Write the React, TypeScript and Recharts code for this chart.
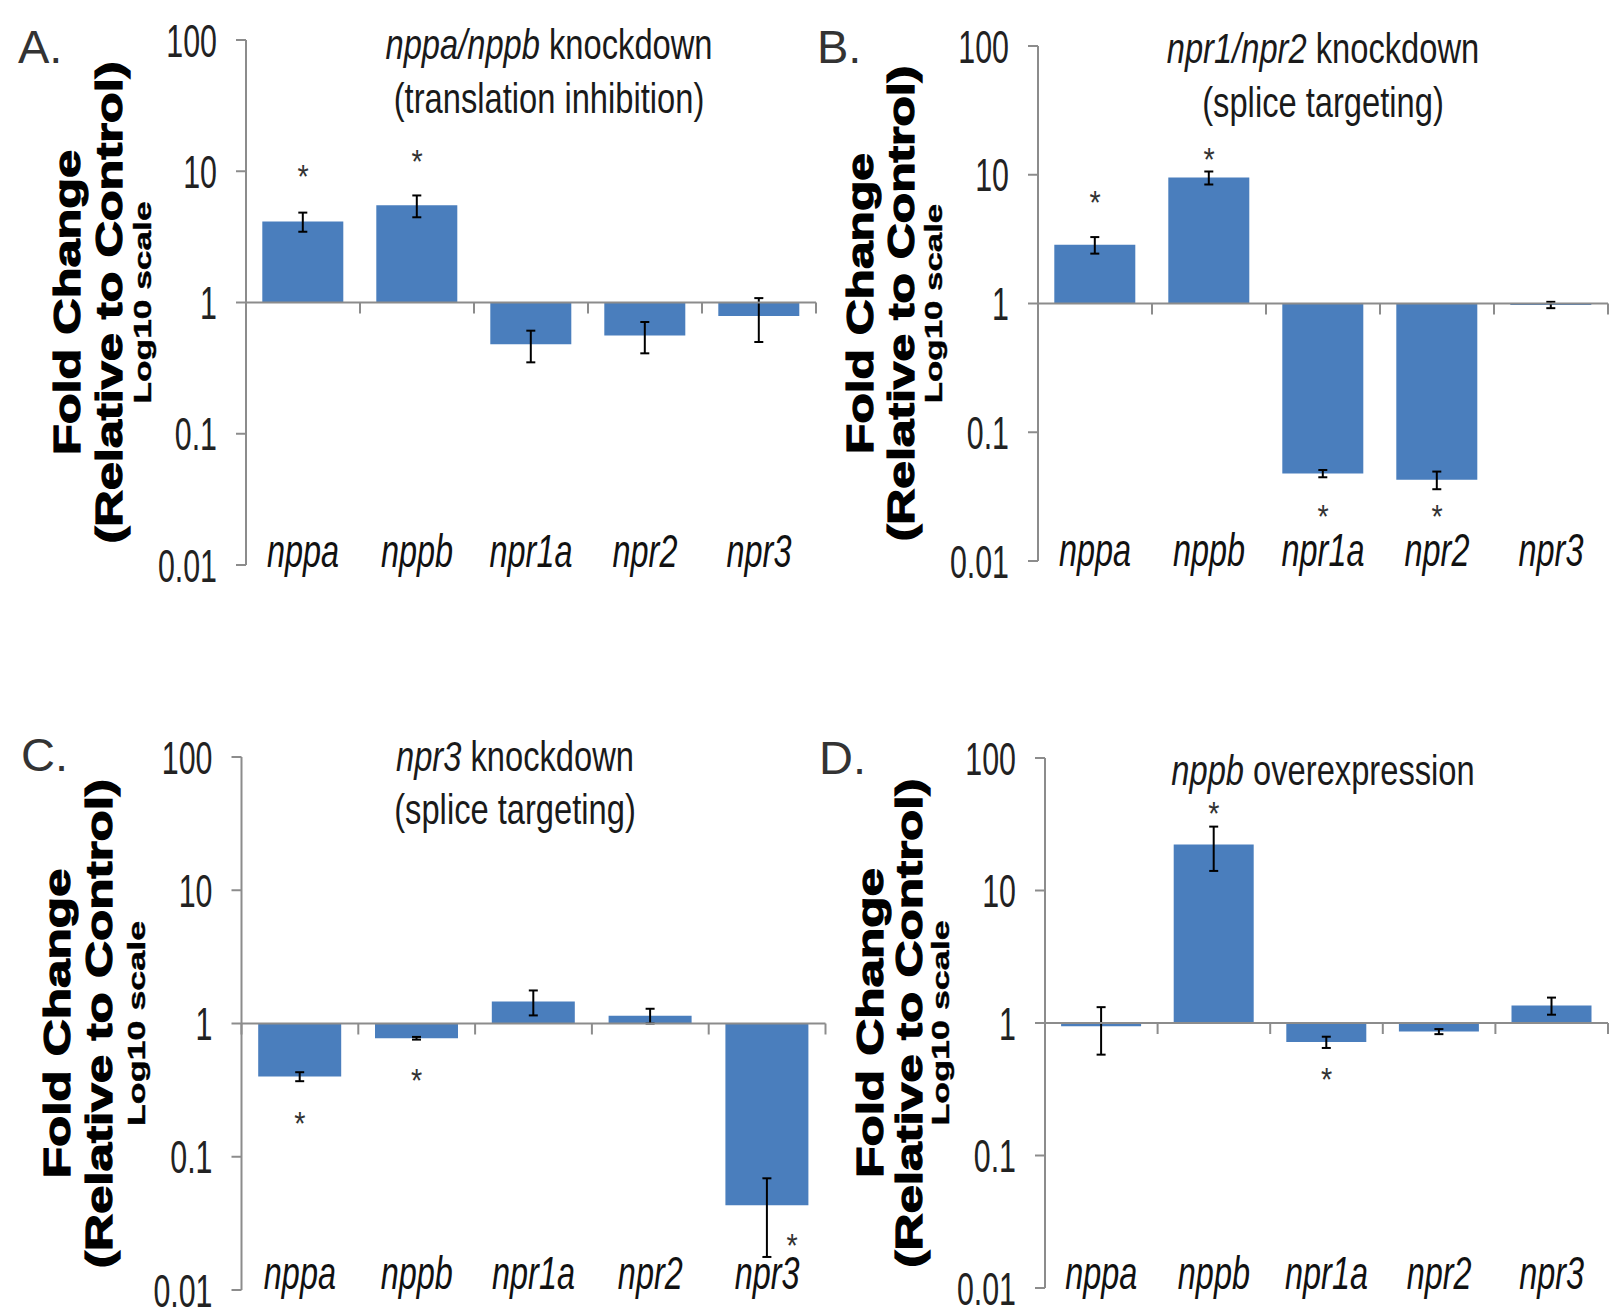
import React from 'react';
import { ComposedChart, Bar, Scatter, XAxis, YAxis, ErrorBar, ReferenceLine } from 'recharts';

const GENES = ['nppa', 'nppb', 'npr1a', 'npr2', 'npr3'];
const LOG_TICKS = [0.01, 0.1, 1, 10, 100];

// A: nppa/nppb knockdown (translation inhibition)
const foldA = [4.15, 5.5, 0.48, 0.56, 0.79];
const errA = [0.69, 1.04, 0.13, 0.15, 0.29];
const starA = [9.9, 12.8, null, null, null];

// B: npr1/npr2 knockdown (splice targeting)
const foldB = [2.86, 9.5, 0.0478, 0.0428, 0.975];
const errB = [0.42, 1.1, 0.0031, 0.0067, 0.055];
const starB = [6.6, 14.3, 0.0242, 0.0242, null];

// C: npr3 knockdown (splice targeting)
const foldC = [0.4, 0.775, 1.46, 1.145, 0.0433];
const errC = [0.031, 0.018, 0.31, 0.145, 0.0256];
const starC = [0.193, 0.403, null, null, 0.0235];

// D: nppb overexpression
const foldD = [0.947, 22.2, 0.718, 0.862, 1.355];
const errD = [0.37, 8.15, 0.07, 0.038, 0.2];
const starD = [null, 41.3, 0.405, null, null];

const FONT = '"Liberation Sans", Arial, Helvetica, sans-serif';
const SQUEEZE = 0.76;
const AXIS = '#8c8c8c';
const BAR = '#4a7ebd';
const Y_AXIS_W = 60;
const X_AXIS_H = 10;

type Row = { gene: string; range: [number, number]; fold: number; err: number; star: number | null };

const rows = (fold: number[], err: number[], star: (number | null)[]): Row[] =>
  GENES.map((gene, i) => ({ gene, range: [1, fold[i]], fold: fold[i], err: err[i], star: star[i] }));

const LogTick = ({ x, y, payload }: any) => (
  <g transform={`translate(${x},${y}) scale(0.66,1)`}>
    <text textAnchor="end" dy="0.36em" fontSize={46} fill="#222" fontFamily={FONT}>
      {payload.value}
    </text>
  </g>
);

// gene names sit at the bottom; the tick marks hang off the "1" line
const makeGeneTick = (plotW: number, plotH: number, lift: number) => (props: any) => {
  const { x, y, payload, index } = props;
  const band = plotW / GENES.length;
  const yOne = y - plotH / 2;
  return (
    <g>
      {index === 0 && (
        <line x1={x - band / 2} x2={x - band / 2} y1={yOne} y2={yOne + 11} stroke={AXIS} strokeWidth={2} />
      )}
      <line x1={x + band / 2} x2={x + band / 2} y1={yOne} y2={yOne + 11} stroke={AXIS} strokeWidth={2} />
      <g transform={`translate(${x},${y - lift}) scale(0.69,1)`}>
        <text textAnchor="middle" fontSize={47} fontStyle="italic" fill="#111" fontFamily={FONT}>
          {payload.value}
        </text>
      </g>
    </g>
  );
};

const StarMark = (props: any) => {
  const { cx, cy, payload } = props;
  if (!payload || payload.star == null || cx == null || cy == null || isNaN(cy)) return <g />;
  // nudge the asterisk aside when it would sit on the error bar
  const onBar = payload.star > payload.fold - payload.err && payload.star < payload.fold + payload.err;
  const F = 34;
  return (
    <g transform={`translate(${cx + (onBar ? 25 : 0)},${cy + 0.48 * F}) scale(0.85,1)`}>
      <text textAnchor="middle" fontSize={F} fill="#333" fontFamily={FONT}>*</text>
    </g>
  );
};

type Geom = {
  left: number; top: number; width: number; height: number;
  plotX: number; plotY: number; plotW: number; plotH: number; lift: number;
};

const Panel: React.FC<{ data: Row[]; g: Geom }> = ({ data, g }) => {
  const margin = {
    top: g.plotY - g.top,
    left: g.plotX - g.left - Y_AXIS_W,
    right: g.left + g.width - (g.plotX + g.plotW),
    bottom: g.top + g.height - (g.plotY + g.plotH) - X_AXIS_H,
  };
  return (
    <div style={{ position: 'absolute', left: g.left, top: g.top }}>
      <ComposedChart width={g.width} height={g.height} data={data} margin={margin} barCategoryGap="14.3%">
        <XAxis
          dataKey="gene"
          height={X_AXIS_H}
          axisLine={false}
          tickLine={false}
          tickSize={0}
          tickMargin={0}
          interval={0}
          tick={makeGeneTick(g.plotW, g.plotH, g.lift)}
        />
        <YAxis
          scale="log"
          domain={[0.01, 100]}
          ticks={LOG_TICKS}
          allowDataOverflow
          width={Y_AXIS_W}
          axisLine={{ stroke: AXIS, strokeWidth: 2 }}
          tickLine={{ stroke: AXIS, strokeWidth: 2 }}
          tickSize={10}
          tickMargin={19}
          tick={<LogTick />}
        />
        <Bar dataKey="range" fill={BAR} isAnimationActive={false}>
          <ErrorBar dataKey="err" width={4.5} stroke="#000" strokeWidth={2} direction="y" />
        </Bar>
        <ReferenceLine y={1} stroke={AXIS} strokeWidth={2} />
        <Scatter dataKey="star" shape={<StarMark />} isAnimationActive={false} />
      </ComposedChart>
    </div>
  );
};

type TitleLine = { italic: string; plain: string; y: number };

const Title: React.FC<{ cx: number; lines: TitleLine[] }> = ({ cx, lines }) => (
  <>
    {lines.map((l, i) => (
      <g key={i} transform={`translate(${cx},${l.y}) scale(${SQUEEZE},1)`}>
        <text textAnchor="middle" fontSize={43} fill="#1a1a1a" fontFamily={FONT} style={{ whiteSpace: 'pre' }}>
          {l.italic && <tspan fontStyle="italic">{l.italic}</tspan>}
          <tspan>{l.plain}</tspan>
        </text>
      </g>
    ))}
  </>
);

const AxisTitle: React.FC<{ cy: number; foldX: number; relX: number; logX: number; len: number }> = ({ cy, foldX, relX, logX, len }) => (
  <>
    <text transform={`translate(${foldX},${cy}) rotate(-90)`} textAnchor="middle" fontSize={36} fontWeight="bold"
      fontFamily={FONT} fill="#000" stroke="#000" strokeWidth={1.2} textLength={len * 0.581} lengthAdjust="spacingAndGlyphs">
      Fold Change
    </text>
    <text transform={`translate(${relX},${cy}) rotate(-90)`} textAnchor="middle" fontSize={36} fontWeight="bold"
      fontFamily={FONT} fill="#000" stroke="#000" strokeWidth={1.2} textLength={len * 0.918} lengthAdjust="spacingAndGlyphs">
      (Relative to Control)
    </text>
    <text transform={`translate(${logX},${cy}) rotate(-90)`} textAnchor="middle" fontSize={23} fontWeight="bold"
      fontFamily={FONT} fill="#000" stroke="#000" strokeWidth={0.4} textLength={len * 0.385} lengthAdjust="spacingAndGlyphs">
      Log10 scale
    </text>
  </>
);

const Letter: React.FC<{ x: number; y: number; text: string }> = ({ x, y, text }) => (
  <text x={x} y={y} fontSize={47} fill="#333" fontFamily={FONT}>{text}</text>
);

const geomA: Geom = { left: 0, top: 0, width: 840, height: 620, plotX: 246, plotY: 40, plotW: 570, plotH: 525, lift: -2 };
const geomB: Geom = { left: 805, top: 0, width: 810, height: 620, plotX: 1038, plotY: 46, plotW: 570, plotH: 515, lift: -5 };
const geomC: Geom = { left: 0, top: 680, width: 850, height: 630, plotX: 241.5, plotY: 757, plotW: 584, plotH: 533, lift: 1 };
const geomD: Geom = { left: 805, top: 680, width: 810, height: 630, plotX: 1045, plotY: 758, plotW: 563, plotH: 530, lift: -1 };

export default function App() {
  return (
    <div style={{ position: 'absolute', left: 0, top: 0, width: 1615, height: 1310, background: '#fff', overflow: 'hidden' }}>
      <Panel data={rows(foldA, errA, starA)} g={geomA} />
      <Panel data={rows(foldB, errB, starB)} g={geomB} />
      <Panel data={rows(foldC, errC, starC)} g={geomC} />
      <Panel data={rows(foldD, errD, starD)} g={geomD} />
      <svg width={1615} height={1310} style={{ position: 'absolute', left: 0, top: 0, pointerEvents: 'none' }}>
        <Letter x={18} y={63} text="A." />
        <Letter x={817} y={63} text="B." />
        <Letter x={21} y={771} text="C." />
        <Letter x={819} y={774} text="D." />

        <Title cx={549} lines={[{ italic: 'nppa/nppb', plain: ' knockdown', y: 59 }, { italic: '', plain: '(translation inhibition)', y: 113 }]} />
        <Title cx={1323} lines={[{ italic: 'npr1/npr2', plain: ' knockdown', y: 63 }, { italic: '', plain: '(splice targeting)', y: 117 }]} />
        <Title cx={515} lines={[{ italic: 'npr3', plain: ' knockdown', y: 771 }, { italic: '', plain: '(splice targeting)', y: 824 }]} />
        <Title cx={1323} lines={[{ italic: 'nppb', plain: ' overexpression', y: 785 }]} />

        <AxisTitle cy={302.5} foldX={80} relX={122} logX={151} len={525} />
        <AxisTitle cy={303.5} foldX={873} relX={914} logX={942} len={518} />
        <AxisTitle cy={1023.5} foldX={70} relX={112} logX={145} len={533} />
        <AxisTitle cy={1023} foldX={883} relX={922} logX={949} len={533} />
      </svg>
    </div>
  );
}
